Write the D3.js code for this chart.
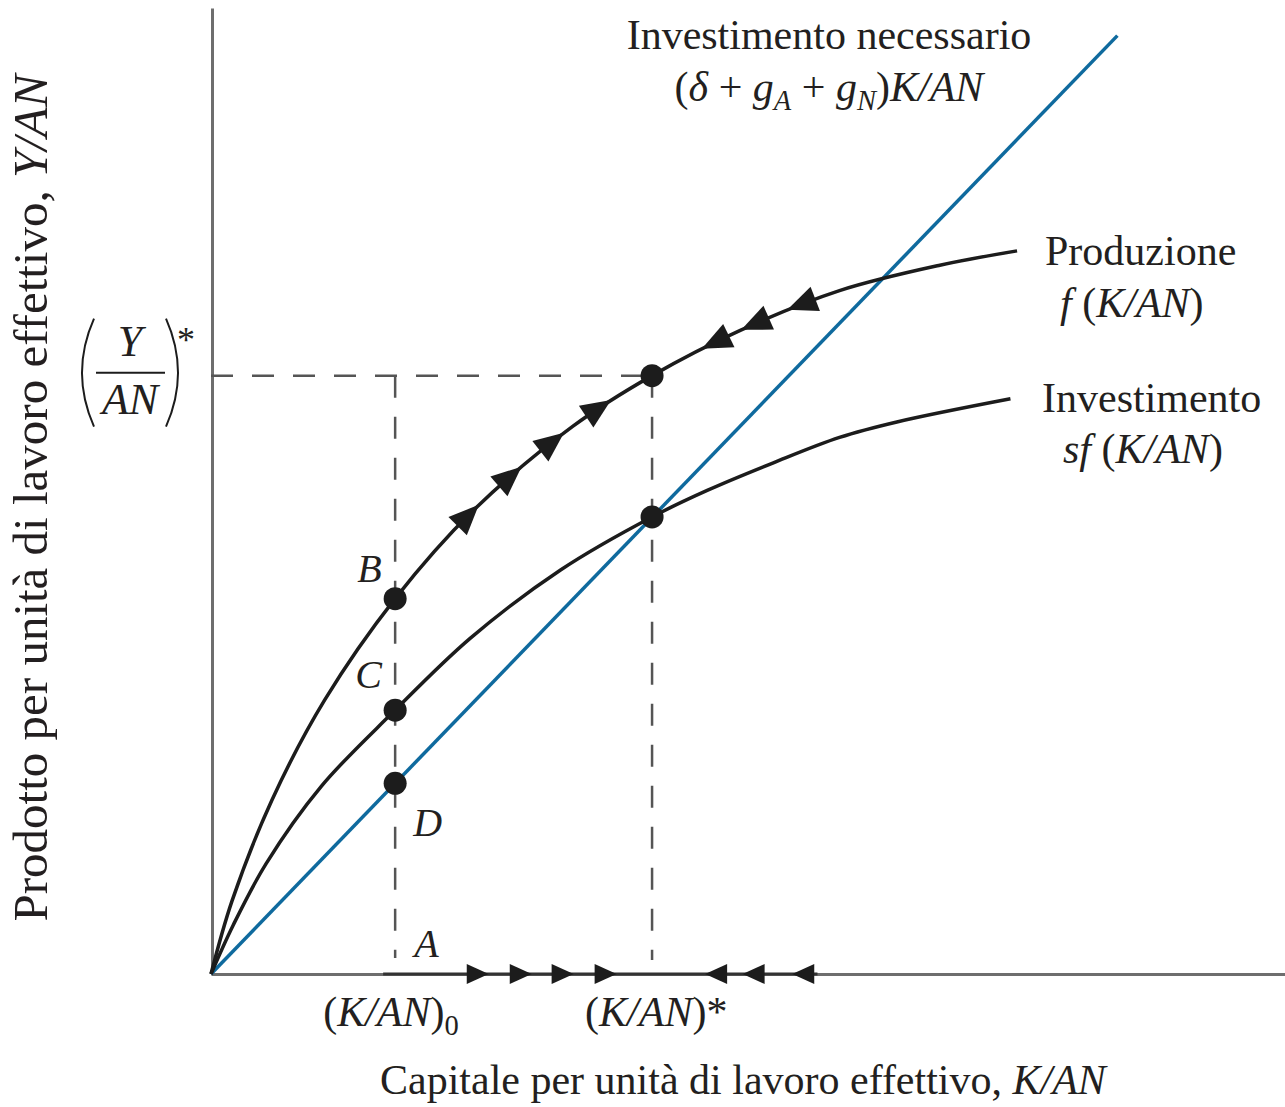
<!DOCTYPE html>
<html>
<head>
<meta charset="utf-8">
<script src="https://cdn.jsdelivr.net/npm/d3@7"></script>
<style>
  body { margin: 0; background: #fff; }
  svg { display: block; }
  text { font-family: "Liberation Serif", "Times New Roman", serif; fill: #231f20; }
</style>
</head>
<body>
<div id="chart"></div>
<script>
// capital per effective worker (K/AN) and output / investment
const productionPts = [
  [0, 0], [0.19, 0.66], [0.55, 1.57], [1.03, 2.48], [1.67, 3.40],
  [2.38, 4.20], [3.28, 4.96], [4.00, 5.42], [4.80, 5.83], [5.70, 6.19],
  [6.61, 6.42], [7.31, 6.55]
];
const investmentPts = [
  [0, 0], [0.20, 0.44], [0.50, 1.00], [1.00, 1.70], [1.65, 2.37], [2.35, 3.04],
  [3.17, 3.66], [4.00, 4.14], [4.50, 4.38], [5.10, 4.63], [5.70, 4.86],
  [6.22, 5.00], [7.25, 5.21]
];
// required investment line (delta + gA + gN) K/AN
const requiredPts = [[0, 0], [8.22, 8.50]];

const kZero = 1.67;   // (K/AN)0
const kStar = 4.00;   // (K/AN)*
const yStar = 5.42;   // (Y/AN)*

// direction arrows: position on K/AN and direction (+1 right, -1 left)
const curveArrows = [[2.32, 1], [2.70, 1], [3.08, 1], [3.50, 1], [4.59, -1], [4.95, -1], [5.37, -1]];
const axisArrows = [[2.41, 1], [2.80, 1], [3.18, 1], [3.57, 1], [4.59, -1], [4.93, -1], [5.38, -1]];

const width = 1285;
const height = 1107;
const ink = "#1c1c1c";
const blue = "#0f6a9e";
const grey = "#6e6e6e";

const x = d3.scaleLinear().domain([0, 9.74]).range([211, 1285]);
const y = d3.scaleLinear().domain([0, 8.75]).range([974, 8]);

const svg = d3.select("#chart").append("svg")
    .attr("width", width)
    .attr("height", height)
    .attr("viewBox", [0, 0, width, height]);

//axes without ticks, only the domain line
svg.append("g")
    .attr("transform", `translate(0,${y(0)})`)
    .call(d3.axisBottom(x).tickValues([]).tickSizeOuter(0))
    .call(g => g.select(".domain").attr("stroke", grey).attr("stroke-width", 3));
svg.append("g")
    .attr("transform", `translate(${x(0) + 1},0)`)
    .call(d3.axisLeft(y).tickValues([]).tickSizeOuter(0))
    .call(g => g.select(".domain").attr("stroke", grey).attr("stroke-width", 3));

// darker stretch of the axis where capital moves
svg.append("line")
    .attr("x1", x(kZero) - 12).attr("x2", x(5.5))
    .attr("y1", y(0)).attr("y2", y(0))
    .attr("stroke", "#333").attr("stroke-width", 3);

//dashed guides
const dash = svg.append("g")
    .attr("stroke", "#555")
    .attr("stroke-width", 2.5)
    .attr("stroke-dasharray", "22,19")
    .attr("fill", "none");
dash.append("line")
    .attr("x1", x(0)).attr("x2", x(kStar))
    .attr("y1", y(yStar)).attr("y2", y(yStar));
dash.append("line")
    .attr("x1", x(kZero)).attr("x2", x(kZero))
    .attr("y1", y(yStar)).attr("y2", y(0) - 16);
dash.append("line")
    .attr("x1", x(kStar)).attr("x2", x(kStar))
    .attr("y1", y(yStar)).attr("y2", y(0) - 14);

const line = d3.line().x(d => x(d[0])).y(d => y(d[1]));
const smooth = d3.line().x(d => x(d[0])).y(d => y(d[1])).curve(d3.curveCatmullRom.alpha(0.5));

svg.append("path")
    .attr("d", line(requiredPts))
    .attr("fill", "none")
    .attr("stroke", blue)
    .attr("stroke-width", 3.5);

const invPath = svg.append("path")
    .attr("d", smooth(investmentPts))
    .attr("fill", "none")
    .attr("stroke", ink)
    .attr("stroke-width", 3.5);

const prodPath = svg.append("path")
    .attr("d", smooth(productionPts))
    .attr("fill", "none")
    .attr("stroke", ink)
    .attr("stroke-width", 3.5);

//find the point of a path at a given data x
function pointAt(pathNode, k) {
    const target = x(k);
    const total = pathNode.getTotalLength();
    let lo = 0, hi = total;
    for (let i = 0; i < 40; i++) {
        const mid = (lo + hi) / 2;
        if (pathNode.getPointAtLength(mid).x < target) lo = mid; else hi = mid;
    }
    const p = pathNode.getPointAtLength(lo);
    const a = pathNode.getPointAtLength(Math.max(0, lo - 2));
    const b = pathNode.getPointAtLength(Math.min(total, lo + 2));
    return { x: p.x, y: p.y, angle: Math.atan2(b.y - a.y, b.x - a.x) * 180 / Math.PI };
}

const tri = "M17,0 L-13,-13 L-13,13 Z";
const triSmall = "M12,0 L-10,-10 L-10,10 Z";

svg.append("g")
    .selectAll("path")
    .data(curveArrows)
    .join("path")
    .attr("d", tri)
    .attr("fill", ink)
    .attr("transform", d => {
        const p = pointAt(prodPath.node(), d[0]);
        const ang = p.angle + (d[1] < 0 ? 180 : 0);
        return `translate(${p.x},${p.y}) rotate(${ang})`;
    });

svg.append("g")
    .selectAll("path")
    .data(axisArrows)
    .join("path")
    .attr("d", triSmall)
    .attr("fill", ink)
    .attr("transform", d => `translate(${x(d[0])},${y(0)}) rotate(${d[1] < 0 ? 180 : 0})`);

//points B, C, D and the two steady state points
const dots = [
    [kZero, pointAt(prodPath.node(), kZero).y],
    [kZero, pointAt(invPath.node(), kZero).y],
    [kZero, y(kZero * requiredPts[1][1] / requiredPts[1][0])],
    [kStar, y(yStar)],
    [kStar, pointAt(invPath.node(), kStar).y]
];
svg.append("g")
    .selectAll("circle")
    .data(dots)
    .join("circle")
    .attr("cx", d => x(d[0]))
    .attr("cy", d => d[1])
    .attr("r", 11.5)
    .attr("fill", ink);

//text helpers
function label(xp, yp, parts, size, anchor) {
    const t = svg.append("text")
        .attr("x", xp).attr("y", yp)
        .attr("font-size", size)
        .attr("text-anchor", anchor || "start");
    parts.forEach(p => {
        const s = t.append("tspan").text(p.t);
        if (p.i) s.attr("font-style", "italic");
        if (p.sub) s.attr("font-size", size * 0.68).attr("baseline-shift", "-30%");
        if (p.sup) s.attr("font-size", size * 0.8).attr("baseline-shift", "30%");
    });
    return t;
}

label(829, 49, [{ t: "Investimento necessario" }], 42, "middle");
label(829, 101, [
    { t: "(" }, { t: "δ", i: 1 }, { t: " + " }, { t: "g", i: 1 }, { t: "A", i: 1, sub: 1 },
    { t: " + " }, { t: "g", i: 1 }, { t: "N", i: 1, sub: 1 }, { t: ")" }, { t: "K/AN", i: 1 }
], 42, "middle");

label(1045, 265, [{ t: "Produzione" }], 42);
label(1060, 317, [{ t: "f", i: 1 }, { t: " (" }, { t: "K/AN", i: 1 }, { t: ")" }], 42);
label(1042, 412, [{ t: "Investimento" }], 42);
label(1063, 463, [{ t: "sf", i: 1 }, { t: " (" }, { t: "K/AN", i: 1 }, { t: ")" }], 42);

label(x(kZero) - 38, 582, [{ t: "B", i: 1 }], 40);
label(x(kZero) - 40, 688, [{ t: "C", i: 1 }], 40);
label(x(kZero) + 18, 836, [{ t: "D", i: 1 }], 40);
label(x(kZero) + 19, 957, [{ t: "A", i: 1 }], 40);

label(x(kZero) - 72, 1026, [{ t: "(" }, { t: "K/AN", i: 1 }, { t: ")" }, { t: "0", sub: 1 }], 42);
label(x(kStar) - 67, 1026, [{ t: "(" }, { t: "K/AN", i: 1 }, { t: ")*" }], 42);

label(380, 1094, [{ t: "Capitale per unità di lavoro effettivo, " }, { t: "K/AN", i: 1 }], 42);

svg.append("g")
    .attr("transform", "translate(47,498) rotate(-90)")
    .append("text")
    .attr("font-size", 49)
    .attr("text-anchor", "middle")
    .call(t => t.append("tspan").text("Prodotto per unità di lavoro effettivo, "))
    .call(t => t.append("tspan").attr("font-style", "italic").text("Y/AN"));

// (Y/AN)* next to the y axis
const fy = y(yStar);
label(130, fy - 20, [{ t: "Y", i: 1 }], 44, "middle");
label(130, fy + 38, [{ t: "AN", i: 1 }], 44, "middle");
label(186, fy - 24, [{ t: "*" }], 36, "middle");
svg.append("line")
    .attr("x1", 96).attr("x2", 165)
    .attr("y1", fy - 3).attr("y2", fy - 3)
    .attr("stroke", ink).attr("stroke-width", 2);
svg.append("path")
    .attr("d", `M94,${fy - 57} Q70,${fy - 3} 94,${fy + 51}`)
    .attr("fill", "none").attr("stroke", ink).attr("stroke-width", 2);
svg.append("path")
    .attr("d", `M166,${fy - 57} Q190,${fy - 3} 166,${fy + 51}`)
    .attr("fill", "none").attr("stroke", ink).attr("stroke-width", 2);
</script>
</body>
</html>
